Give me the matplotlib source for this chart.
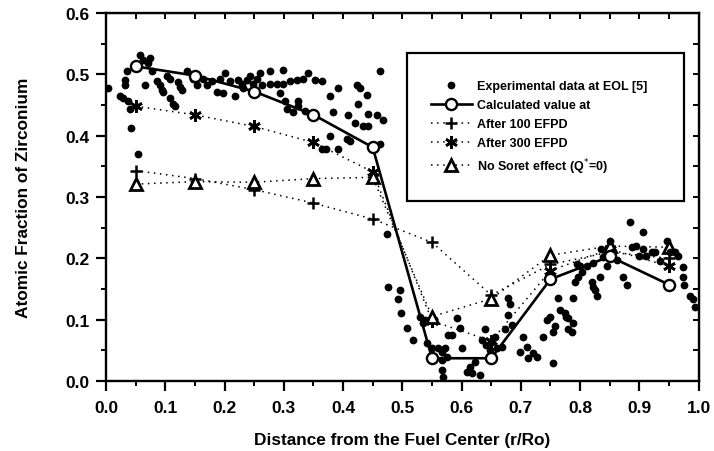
import numpy as np
from matplotlib import pyplot as plt
from matplotlib.lines import Line2D
from matplotlib.patches import Rectangle
from matplotlib.ticker import MultipleLocator

plt.rcParams['font.family'] = ['Liberation Sans', 'DejaVu Sans']

# experimental data at EOL [5]
exp_x = [0.003, 0.024, 0.029, 0.035, 0.032, 0.032, 0.037, 0.040, 0.042, 0.054,
         0.057, 0.062, 0.074, 0.071, 0.066, 0.078, 0.086, 0.091, 0.094, 0.096,
         0.103, 0.108, 0.108, 0.113, 0.116, 0.121, 0.125, 0.128, 0.137, 0.147,
         0.153, 0.164, 0.170, 0.179, 0.187, 0.192, 0.201, 0.197, 0.209, 0.218,
         0.223, 0.229, 0.238, 0.243, 0.255, 0.260, 0.277, 0.298, 0.231, 0.248,
         0.263, 0.277, 0.288, 0.298, 0.310, 0.322, 0.332, 0.341, 0.352, 0.364,
         0.293, 0.302, 0.305, 0.315, 0.324, 0.324, 0.336, 0.378, 0.391, 0.383,
         0.378, 0.364, 0.372, 0.391, 0.406, 0.411, 0.408, 0.420, 0.423, 0.428,
         0.425, 0.440, 0.442, 0.457, 0.467, 0.434, 0.442, 0.462, 0.462, 0.474,
         0.476, 0.496, 0.492, 0.497, 0.508, 0.518, 0.530, 0.535, 0.538, 0.541,
         0.550, 0.560, 0.572, 0.567, 0.567, 0.568, 0.577, 0.567, 0.575, 0.592,
         0.597, 0.583, 0.600, 0.609, 0.617, 0.614, 0.622, 0.631, 0.639, 0.634,
         0.642, 0.651, 0.656, 0.659, 0.668, 0.648, 0.678, 0.681, 0.678, 0.673,
         0.685, 0.703, 0.698, 0.712, 0.720, 0.728, 0.710, 0.737, 0.744, 0.749,
         0.754, 0.757, 0.754, 0.762, 0.766, 0.777, 0.779, 0.788, 0.786, 0.791,
         0.788, 0.794, 0.774, 0.779, 0.796, 0.804, 0.799, 0.811, 0.821, 0.820,
         0.821, 0.825, 0.828, 0.833, 0.836, 0.838, 0.845, 0.850, 0.855, 0.862,
         0.872, 0.879, 0.884, 0.906, 0.887, 0.895, 0.906, 0.900, 0.912, 0.921,
         0.926, 0.934, 0.946, 0.951, 0.960, 0.965, 0.973, 0.973, 0.976, 0.985,
         0.990, 0.993]
exp_y = [0.477, 0.464, 0.461, 0.505, 0.490, 0.482, 0.456, 0.444, 0.413, 0.370,
         0.531, 0.523, 0.526, 0.518, 0.482, 0.505, 0.489, 0.482, 0.474, 0.472,
         0.498, 0.493, 0.461, 0.452, 0.448, 0.488, 0.480, 0.474, 0.505, 0.493,
         0.482, 0.493, 0.482, 0.489, 0.472, 0.493, 0.502, 0.469, 0.489, 0.464,
         0.490, 0.485, 0.490, 0.498, 0.493, 0.502, 0.505, 0.507, 0.477, 0.485,
         0.482, 0.485, 0.485, 0.485, 0.489, 0.490, 0.493, 0.502, 0.490, 0.489,
         0.469, 0.456, 0.444, 0.439, 0.457, 0.448, 0.441, 0.464, 0.477, 0.439,
         0.400, 0.379, 0.379, 0.379, 0.395, 0.392, 0.433, 0.420, 0.482, 0.477,
         0.452, 0.466, 0.436, 0.433, 0.425, 0.416, 0.415, 0.505, 0.387, 0.239,
         0.154, 0.149, 0.133, 0.111, 0.087, 0.067, 0.105, 0.095, 0.100, 0.062,
         0.054, 0.054, 0.054, 0.034, 0.018, 0.007, 0.075, 0.048, 0.039, 0.103,
         0.087, 0.075, 0.054, 0.015, 0.013, 0.023, 0.031, 0.010, 0.084, 0.067,
         0.059, 0.064, 0.072, 0.054, 0.056, 0.051, 0.136, 0.125, 0.108, 0.084,
         0.092, 0.072, 0.048, 0.038, 0.046, 0.039, 0.056, 0.072, 0.100, 0.105,
         0.079, 0.089, 0.030, 0.136, 0.116, 0.105, 0.084, 0.095, 0.079, 0.161,
         0.136, 0.190, 0.111, 0.103, 0.169, 0.177, 0.187, 0.187, 0.193, 0.162,
         0.154, 0.149, 0.138, 0.169, 0.215, 0.202, 0.187, 0.228, 0.211, 0.198,
         0.169, 0.157, 0.259, 0.243, 0.218, 0.220, 0.215, 0.203, 0.203, 0.211,
         0.210, 0.195, 0.228, 0.210, 0.210, 0.203, 0.185, 0.170, 0.157, 0.138,
         0.133, 0.120]

# calculated values
r_calc = [0.05, 0.15, 0.25, 0.35, 0.45, 0.55, 0.65, 0.75, 0.85, 0.95]
calc = [0.513, 0.498, 0.472, 0.434, 0.381, 0.037, 0.037, 0.166, 0.203, 0.157]
efpd100 = [0.343, 0.330, 0.312, 0.290, 0.264, 0.226, 0.140, 0.190, 0.210, 0.200]
efpd300 = [0.448, 0.434, 0.415, 0.389, 0.341, 0.098, 0.065, 0.180, 0.215, 0.187]
nosoret = [0.321, 0.325, 0.324, 0.330, 0.332, 0.105, 0.134, 0.205, 0.220, 0.218]

labels = ['Experimental data at EOL [5]', 'Calculated value at',
          'After 100 EFPD', 'After 300 EFPD', 'No Soret effect (Q$^{*}$=0)']

dots = (0, (1, 3))
star = (6, 2, 0)

fig = plt.figure(figsize=(7.14, 4.52), dpi=100)
ax = fig.add_axes([0.1485, 0.155, 0.83, 0.814])

ax.plot(exp_x, exp_y, 'o', color='black', markersize=5.6, mew=0, zorder=3)
ax.plot(r_calc, efpd100, color='black', ls=dots, lw=1.1, marker='+',
        markersize=9, mew=1.8, zorder=2)
ax.plot(r_calc, efpd300, color='black', ls=dots, lw=1.1, marker=star,
        markersize=9, mew=1.9, zorder=2)
ax.plot(r_calc, nosoret, color='black', ls=dots, lw=1.1, marker='^',
        markersize=8, mfc='white', mec='black', mew=2.0, zorder=2)
ax.plot(r_calc, calc, color='black', lw=1.9, marker='o', markersize=8,
        mfc='white', mec='black', mew=1.7, zorder=4)

ax.set_xlim(0, 1.0)
ax.set_ylim(0, 0.6)
ax.xaxis.set_major_locator(MultipleLocator(0.1))
ax.xaxis.set_minor_locator(MultipleLocator(0.05))
ax.yaxis.set_major_locator(MultipleLocator(0.1))
ax.yaxis.set_minor_locator(MultipleLocator(0.05))
ax.xaxis.set_major_formatter(lambda v, p: f'{v:.1f}')
ax.yaxis.set_major_formatter(lambda v, p: f'{v:.1f}')

for s in ax.spines.values():
    s.set_linewidth(1.7)
ax.tick_params(which='major', direction='out', length=7, width=1.6,
               labelsize=12.5, pad=5)
ax.tick_params(which='minor', direction='out', length=3.5, width=1.4)
ax.tick_params(axis='x', which='major', pad=7)
for lab in ax.get_xticklabels() + ax.get_yticklabels():
    lab.set_fontweight('bold')

# inward ticks on top and right
axt = ax.secondary_xaxis('top')
axt.xaxis.set_major_locator(MultipleLocator(0.05))
axt.tick_params(direction='in', length=4, width=1.4, labeltop=False)
axr = ax.secondary_yaxis('right')
axr.yaxis.set_major_locator(MultipleLocator(0.05))
axr.tick_params(direction='in', length=4, width=1.4, labelright=False)

ax.set_xlabel('Distance from the Fuel Center (r/Ro)', fontsize=12.4,
              fontweight='bold')
ax.set_ylabel('Atomic Fraction of Zirconium', fontsize=12.4,
              fontweight='bold')
ax.xaxis.set_label_coords(0.5, -0.138)
ax.yaxis.set_label_coords(-0.127, 0.5)

# legend
handles = [
    Line2D([], [], ls='none', marker='o', color='black', markersize=5.6, mew=0),
    Line2D([], [], color='black', lw=1.9, marker='o', markersize=8,
           mfc='white', mec='black', mew=1.7),
    Line2D([], [], color='black', ls=dots, lw=1.1, marker='+',
           markersize=9, mew=1.8),
    Line2D([], [], color='black', ls=dots, lw=1.1, marker=star,
           markersize=9, mew=1.9),
    Line2D([], [], color='black', ls=dots, lw=1.1, marker='^',
           markersize=8, mfc='white', mec='black', mew=2.0),
]
ax.add_patch(Rectangle((0.508, 0.489), 0.467, 0.402, transform=ax.transAxes,
                       facecolor='white', edgecolor='black', lw=1.6, zorder=5))
leg = ax.legend(handles, labels, loc='upper left',
                bbox_to_anchor=(0.548, 0.818), frameon=False,
                prop={'size': 9, 'weight': 'bold'},
                borderpad=0, borderaxespad=0, handlelength=3.3,
                handletextpad=0.4, labelspacing=0.56)
leg.set_zorder(6)

fig.savefig('out.png', dpi=100)
